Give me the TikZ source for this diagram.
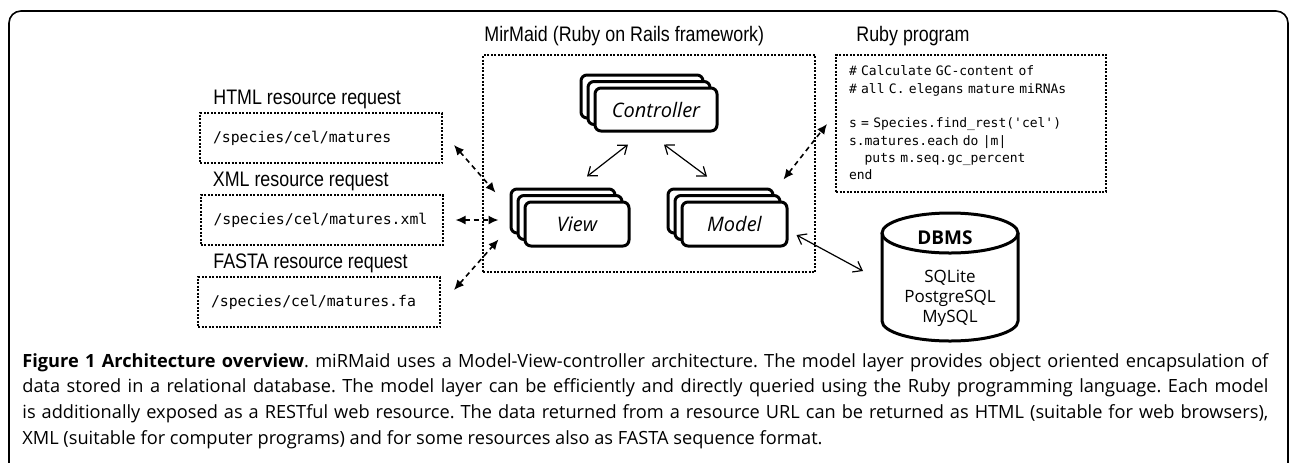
\documentclass[tikz,border=0pt]{standalone}
\usepackage{fontspec}
\setmainfont{Open Sans}
\setmonofont{DejaVu Sans Mono}
\newfontfamily\labelfont[FakeStretch=0.85]{Liberation Sans}
\usetikzlibrary{arrows.meta,calc,positioning,shadows}
\tikzset{
    dotbox/.style = {draw, line width=1pt, dash pattern=on 1pt off 0.75pt},   % <--- dotted frames
     title/.style = {anchor=base west, inner sep=0pt,
                     font=\labelfont\fontsize{10.5}{12}\selectfont},
   request/.style = {dotbox, minimum width=121pt, minimum height=25pt,
                     inner xsep=6.5pt, text width=108pt, align=left,
                     font=\ttfamily\fontsize{7.4}{9}\selectfont},
     stack/.style = {draw, fill=white, line width=1.5pt, rounded corners=3pt,
                     general shadow={shadow xshift=-7pt, shadow yshift=6.5pt, draw, fill=white},
                     general shadow={shadow xshift=-3.5pt, shadow yshift=3.25pt, draw, fill=white},
                     font=\itshape\fontsize{10}{12}\selectfont},
       arr/.style = {{Straight Barb[length=4pt,width=6pt]}-{Straight Barb[length=4pt,width=6pt]},
                     line width=0.6pt},
   dasharr/.style = {{Latex[length=5pt,width=4.5pt]}-{Latex[length=5pt,width=4.5pt]},
                     line width=0.8pt, dash pattern=on 2.5pt off 2pt},
   figcaption/.style = {anchor=north west, inner sep=0pt, text width=623pt, align=justify,
                     font=\frenchspacing\fontsize{9.1}{12.8}\selectfont},
}
\begin{document}
\begin{tikzpicture}[x=0.5pt, y=-0.5pt]
  \useasboundingbox (0,0) rectangle (1290,462);
  \draw[line width=0.8pt, rounded corners=6pt] (9,480) |- (1288,11) -- (1288,480);

  % requests
  \node[request] (html)  at (321,138)   {/species/cel/matures};
  \node[request] (xml)   at (321.5,220) {/species/cel/matures.xml};
  \node[request] (fasta) at (319,302)   {/species/cel/matures.fa};
  \node[title] at ($(html.north west)+(14,-8)$)  {HTML resource request};
  \node[title] at ($(xml.north west)+(13,-8)$)   {XML resource request};
  \node[title] at ($(fasta.north west)+(16,-8)$) {FASTA resource request};

  % framework
  \node[dotbox, minimum width=166pt, minimum height=108.5pt] (rails) at (649,163.5) {};
  \node[title] at ($(rails.north west)+(2,-13)$) {MirMaid (Ruby on Rails framework)};
  \node[stack, minimum width=61pt, minimum height=21.5pt] (ctrl)  at (656,109.5) {Controller};
  \node[stack, minimum width=52pt, minimum height=22pt]   (view)  at (577,224)   {View};
  \node[stack, minimum width=52.5pt, minimum height=22pt] (model) at (734.5,224) {Model};

  % ruby program
  \node[dotbox, minimum width=135pt, minimum height=68.5pt, inner xsep=6.5pt,
        text width=122pt, align=left, font=\ttfamily\fontsize{6.5}{8.65}\selectfont]
        (ruby) at (971,123) {\# Calculate GC-content of\\
                             \# all C. elegans mature miRNAs\\
                             \mbox{}\\
                             s = Species.find\_rest('cel')\\
                             s.matures.each do |m|\\
                             \hphantom{xx}puts m.seq.gc\_percent\\
                             end};
  \node[title] at ($(ruby.north west)+(21,-12)$) {Ruby program};

  % database
  \draw[line width=1.5pt, fill=white] (882,233) -- (882,321) arc (180:360:34pt and 10pt) -- (1018,233);
  \draw[line width=1.5pt] (950,233) ellipse (34pt and 10pt);
  \node[font=\bfseries\fontsize{9.5}{11}\selectfont] (dbtitle) at (945,238) {DBMS};
  \node[align=center, font=\fontsize{8.5}{10}\selectfont] (dbms) at (950,298) {SQLite\\PostgreSQL\\MySQL};
  \coordinate (dbin) at (863,271);

  % connectors
  \draw[arr] ($(ctrl.south)+(-28,12)$) -- ($(view.north)+(10,-24)$);
  \draw[arr] ($(ctrl.south)+(8,12)$) -- ($(model.north)+(-27.5,-24)$);
  \draw[arr] ($(model.east)+(8,11)$) -- (dbin);
  \draw[dasharr] ($(html.east)+(11,7)$) -- ($(view.north west)+(-28,-8)$);
  \draw[dasharr] ($(xml.east)+(12,0)$) -- ($(view.west)+(-25,-4)$);
  \draw[dasharr] ($(fasta.east)+(13,-12)$) -- ($(view.south west)+(-25,-8)$);
  \draw[dasharr] ($(model.north east)+(-5,-21)$) -- ($(ruby.west)+(-8,1)$);

  % caption
  \node[figcaption] (cap) at (22,353) {\textbf{Figure 1 Architecture overview}. miRMaid uses a Model-View-controller architecture. The model layer provides object oriented encapsulation of\linebreak
  data stored in a relational database. The model layer can be efficiently and directly queried using the Ruby programming language. Each model\linebreak
  is additionally exposed as a RESTful web resource. The data returned from a resource URL can be returned as HTML (suitable for web browsers),\linebreak
  XML (suitable for computer programs) and for some resources also as FASTA sequence format.};
\end{tikzpicture}
\end{document}
